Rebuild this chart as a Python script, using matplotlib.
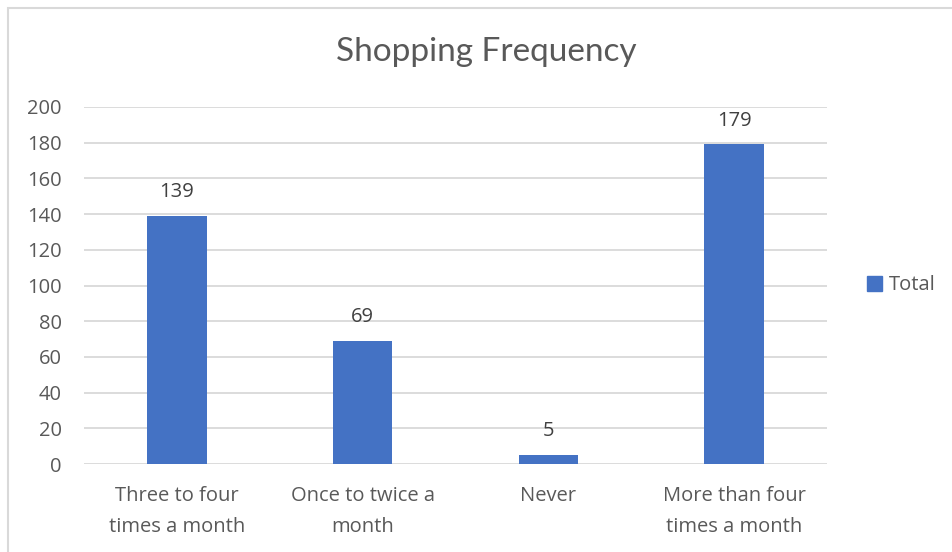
import matplotlib
matplotlib.use("Agg")
import matplotlib.pyplot as plt
from matplotlib.patches import Rectangle, Patch

categories = ["Three to four\ntimes a month", "Once to twice a\nmonth", "Never",
              "More than four\ntimes a month"]
totals = [139, 69, 5, 179]
y_ticks = [0, 20, 40, 60, 80, 100, 120, 140, 160, 180, 200]

BAR = "#4472C4"
TEXT = "#595959"
GRID = "#D9D9D9"

plt.rcParams["font.family"] = ["Open Sans", "DejaVu Sans"]

fig = plt.figure(figsize=(9.52, 5.52), dpi=100)
W, H = 952, 552

# chart frame (runs off the right and bottom edges)
fig.patches.append(Rectangle((7.5 / W, -0.05), 1.1, 1 - 7.5 / H + 0.05,
                             transform=fig.transFigure, fill=False,
                             edgecolor="#D9D9D9", linewidth=1.5))

ax = fig.add_axes([84 / W, 1 - 464 / H, (827 - 84) / W, (464 - 107) / H])
x = range(len(categories))
ax.bar(x, totals, width=0.32, color=BAR, zorder=3)
ax.set_xlim(-0.5, len(categories) - 0.5)
ax.set_ylim(0, 200)
ax.set_yticks(y_ticks)
ax.set_xticks(list(x))
ax.set_xticklabels(categories, fontsize=14.5, color=TEXT, linespacing=1.72)
ax.tick_params(axis="y", labelsize=14.5, labelcolor=TEXT, length=0, pad=16)
ax.tick_params(axis="x", length=0, pad=16)
ax.grid(axis="y", color=GRID, linewidth=1.3, zorder=0)
for s in ax.spines.values():
    s.set_visible(False)

for xi, v in zip(x, totals):
    ax.annotate(str(v), (xi, v), xytext=(0, 17), textcoords="offset points",
                ha="center", va="center", fontsize=14.5, color="#404040")

fig.text(486 / W, 1 - 52 / H, "Shopping Frequency", ha="center", va="center",
         fontsize=24, color=TEXT, family=["Lato", "DejaVu Sans"])

ax.legend(handles=[Patch(color=BAR, label="Total")], loc="center left",
          bbox_to_anchor=(1.03, 0.5), frameon=False, fontsize=14.5,
          handlelength=0.7, handleheight=0.7, handletextpad=0.35,
          labelcolor=TEXT)

fig.savefig("out.png", dpi=100)
